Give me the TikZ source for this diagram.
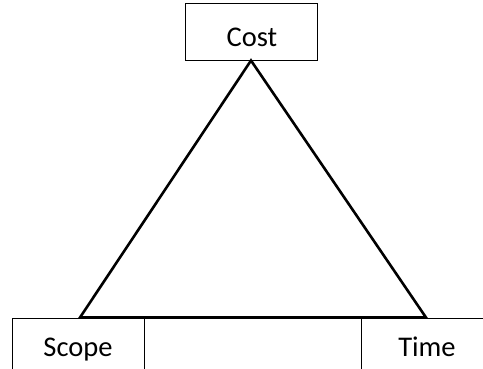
\documentclass[tikz,border=0pt]{standalone}
\usepackage{fontspec}
\setmainfont{Carlito}
\begin{document}
\begin{tikzpicture}[x=1pt,y=-1pt,
  box/.style={draw=black,line width=1pt,rectangle,inner sep=0pt},
  lbl/.style={font=\fontsize{28.5}{32}\selectfont,inner sep=0pt,anchor=base},
  side/.style={line width=2.6pt,line cap=butt,line join=miter}]
\useasboundingbox (0,0) rectangle (483,368);
\begin{scope}
\clip (0,0) rectangle (483,368);
\node[box,minimum width=132pt,minimum height=57pt] (cost) at (251,31.5) {};
\node[box,minimum width=132pt,minimum height=60pt,anchor=north west] (scope) at (12,318) {};
\node[box,minimum width=132pt,minimum height=60pt,anchor=north west] (time) at (361,318) {};
\end{scope}
\node[lbl] (costt) at (252,46) {Cost};
\node[lbl] (scopet) at (78,356) {Scope};
\node[lbl] (timet) at (427,356) {Time};
\coordinate (bl) at (80,317.5);
\coordinate (br) at (426,317.5);
\draw[side] (cost.south) -- (bl) -- (br) -- cycle;
\end{tikzpicture}
\end{document}
